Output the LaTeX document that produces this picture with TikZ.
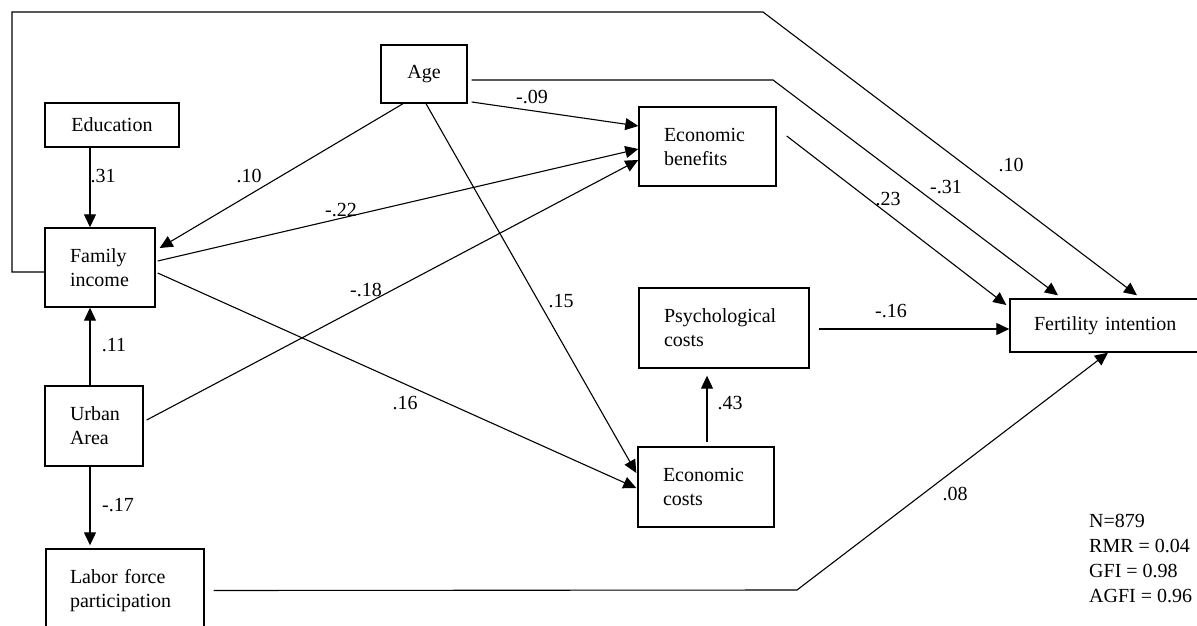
\documentclass[tikz,border=0pt]{standalone}
\usepackage{fontspec}
\setmainfont{Liberation Serif}
\usetikzlibrary{arrows.meta}
\tikzset{
  box/.style={draw, line width=1.4pt, inner ysep=0pt, inner xsep=0pt, font=\fontsize{20}{24}\selectfont},
  lbox/.style={box, align=left, inner xsep=25pt},
  lbl/.style={inner sep=0pt, font=\fontsize{20}{24}\selectfont},
  path/.style={line width=1.1pt},
  arr/.style={line width=1.1pt, -{Triangle[length=13pt,width=12pt]}}
}
\begin{document}
\begin{tikzpicture}[x=1pt,y=-1pt]
\clip (0,0) rectangle (1197,626);
\fill[white] (0,0) rectangle (1197,626);
% nodes
\node[box, minimum width=134pt, minimum height=44pt] (edu) at (112,125) {Education};
\node[lbox, text width=60pt, minimum height=79pt] (fam) at (100,267.5) {Family\\income};
\node[box, minimum width=86pt, minimum height=58pt] (age) at (424,74) {Age};
\node[lbox, text width=87pt, minimum height=79pt] (eb) at (707.5,146.5) {Economic\\benefits};
\node[lbox, text width=120pt, minimum height=80pt] (pc) at (724,328) {Psychological\\costs};
\node[lbox, text width=86pt, minimum height=80pt] (ec) at (706,487) {Economic\\costs};
\node[lbox, inner xsep=24pt, text width=152pt, minimum height=53pt] (fi) at (1110,325.5) {Fertility intention};
\node[lbox, text width=48pt, minimum height=80pt] (urb) at (94,426) {Urban\\Area};
\node[lbox, inner xsep=24pt, text width=110pt, minimum height=83pt] (lab) at (125,590.5) {Labor force\\participation};
\node[lbl, align=left, anchor=north west, font=\fontsize{20}{25}\selectfont] (stats) at (1089,514) {N=879\\RMR = 0.04\\GFI = 0.98\\AGFI = 0.96};
% bend coordinates
\coordinate (b1) at (12,272);
\coordinate (b2) at (12,12);
\coordinate (b3) at (763,12);
\coordinate (b4) at (773,80);
\coordinate (b5) at (797,590);
% connectors
\draw[arr] ([xshift=-22pt]edu.south) -- ([xshift=-10pt]fam.north);
\draw[arr] ([xshift=-4pt]urb.north) -- ([xshift=-10pt]fam.south);
\draw[arr] ([xshift=-4pt]urb.south) -- ([xshift=-35pt,yshift=3pt]lab.north);
\draw[arr] ([xshift=-21pt]age.south) -- ([xshift=4pt,yshift=19.5pt]fam.east);
\draw[arr] ([xshift=4pt,yshift=-28pt]age.east) -- ([yshift=20.5pt]eb.west);
\draw[arr] ([xshift=2pt]age.south) -- ([xshift=-1pt,yshift=14pt]ec.west);
\draw[arr] ([xshift=4pt,yshift=-6pt]age.east) -- (b4) -- ([xshift=-52pt,yshift=3pt]fi.north);
\draw[arr] ([yshift=-4.5pt]fam.west) -- (b1) -- (b2) -- (b3) -- ([xshift=27pt,yshift=3pt]fi.north);
\draw[arr] ([xshift=2pt,yshift=6.5pt]fam.east) -- ([yshift=-2.5pt]eb.west);
\draw[arr] ([xshift=2pt,yshift=-5.5pt]fam.east) -- ([xshift=-1pt,yshift=-1pt]ec.west);
\draw[arr] ([xshift=3pt,yshift=6pt]urb.east) -- ([yshift=-13.5pt]eb.west);
\draw[arr] ([xshift=10pt,yshift=10.5pt]eb.east) -- ([xshift=-3pt,yshift=20.5pt]fi.west);
\draw[arr] ([xshift=9pt,yshift=-1pt]pc.east) -- ([yshift=-3.5pt]fi.west);
\draw[arr] ([xshift=1pt,yshift=4pt]ec.north) -- ([xshift=-17pt,yshift=-7pt]pc.south);
\draw[arr] ([xshift=9pt]lab.east) -- (b5) -- ([xshift=-2pt]fi.south);
% labels
\node[lbl] (l1) at (103,176) {.31};
\node[lbl] (l2) at (249,176) {.10};
\node[lbl] (l3) at (341,210) {-.22};
\node[lbl] (l4) at (366,290) {-.18};
\node[lbl] (l5) at (114,345) {.11};
\node[lbl] (l6) at (118,505) {-.17};
\node[lbl] (l7) at (405,403) {.16};
\node[lbl] (l8) at (561,301) {.15};
\node[lbl] (l9) at (532,97) {-.09};
\node[lbl] (l10) at (1011,165) {.10};
\node[lbl] (l11) at (946,187) {-.31};
\node[lbl] (l12) at (888,199) {.23};
\node[lbl] (l13) at (891,311) {-.16};
\node[lbl] (l14) at (730,403) {.43};
\node[lbl] (l15) at (955,494) {.08};
\end{tikzpicture}
\end{document}
